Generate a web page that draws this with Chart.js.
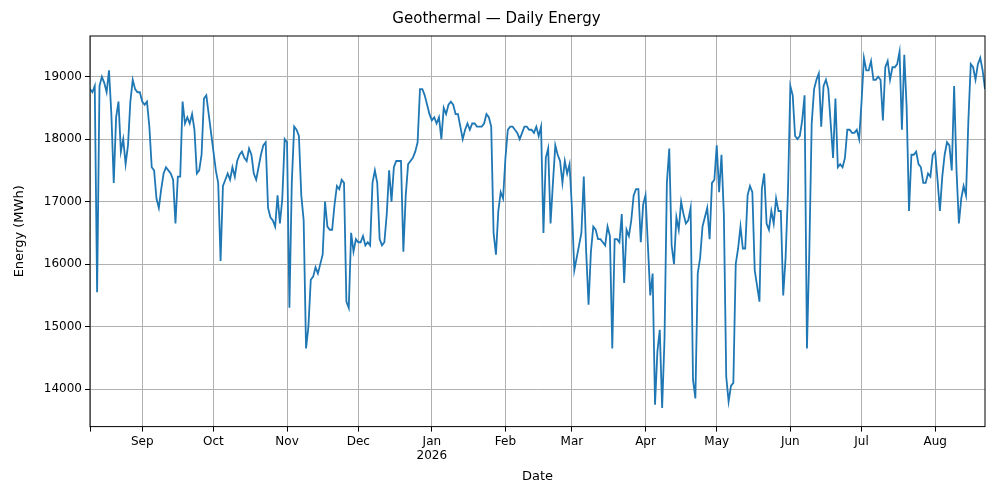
<!DOCTYPE html>
<html>
<head>
<meta charset="utf-8">
<script src="https://cdn.jsdelivr.net/npm/chart.js@4.4.1/dist/chart.umd.min.js"></script>
<style>
  html, body { margin: 0; padding: 0; background: #fff; }
  #wrap { width: 1000px; height: 500px; }
</style>
</head>
<body>
<div id="wrap"><canvas id="chart" width="1000" height="500"></canvas></div>
<script>
/* ================= DATA (daily MWh, 10 Aug 2025 .. 22 Aug 2026) ================= */
const aug25 = [18800,18750,18850,15550,18850,19000,18900,18750,19100,18400,17300,18350,18600,17800,18000,17600,17900,18600,18950,18800,18750,18750];
const sep25 = [18600,18550,18600,18200,17550,17500,17050,16900,17200,17450,17550,17500,17450,17350,16650,17400,17400,18600,18250,18350,18250,18400,18150,17450,17500,17750,18650,18700,18400,18100];
const oct25 = [17800,17500,17300,16050,17250,17350,17450,17350,17550,17400,17650,17750,17800,17700,17650,17850,17750,17450,17350,17550,17750,17900,17950,16900,16750,16700,16600,17100,16650,17050,18000];
const nov25 = [17950,15300,17300,18200,18150,18050,17100,16700,14650,15000,15750,15800,15950,15850,16000,16150,17000,16600,16550,16550,16950,17250,17200,17350,17300,15400,15300,16500,16200,16400];
const dec25 = [16350,16350,16450,16300,16350,16300,17300,17500,17300,16400,16300,16350,16800,17500,17000,17550,17650,17650,17650,16200,17100,17600,17650,17700,17800,17950,18800,18800,18700,18550,18400];
const jan26 = [18300,18350,18250,18350,18000,18500,18400,18550,18600,18550,18400,18400,18200,18000,18150,18250,18150,18250,18250,18200,18200,18200,18250,18400,18350,18200,16500,16150,16850,17150,17050];
const feb26 = [17700,18150,18200,18200,18150,18100,18000,18100,18200,18200,18150,18150,18100,18200,18050,18200,16500,17700,17850,16650,17300,17900,17750,17650,17300,17650,17450,17600];
const mar26 = [16900,15900,16100,16300,16500,17400,16200,15350,16200,16600,16550,16400,16400,16350,16300,16600,16450,14650,16400,16400,16350,16800,15700,16550,16450,16700,17100,17200,17200,16350,16950];
const apr26 = [17100,16300,15500,15850,13750,14600,14950,13700,14800,17300,17850,16300,16000,16750,16550,17000,16800,16650,16700,16900,14150,13850,15850,16100,16600,16750,16900,16400,17300,17350];
const may26 = [17900,17150,17750,16800,14200,13800,14050,14100,16000,16250,16600,16250,16250,17100,17250,17150,15900,15650,15400,17200,17450,16650,16550,16850,16650,17050,16850,16850,15500,16100,17150];
const jun26 = [18850,18700,18050,18000,18050,18300,18700,14650,16200,18250,18800,18950,19050,18200,18850,18950,18800,18250,17700,18650,17550,17600,17550,17700,18150,18150,18100,18100,18150,18000];
const jul26 = [18600,19300,19100,19100,19250,18950,18950,19000,18950,18300,19150,19250,18950,19150,19150,19200,19400,18150,19350,18500,16850,17750,17750,17800,17600,17550,17300,17300,17450,17400,17750];
const aug26 = [17800,17350,16850,17400,17750,17950,17900,17500,18850,17500,16650,17050,17250,17100,18300,19200,19150,18950,19200,19300,19100,18800];

const months = [aug25, sep25, oct25, nov25, dec25, jan26, feb26, mar26, apr26, may26, jun26, jul26, aug26];
const monthLabels = ["", "Sep", "Oct", "Nov", "Dec", ["Jan", "2026"], "Feb", "Mar", "Apr", "May", "Jun", "Jul", "Aug"];
const yTicks = [14000, 15000, 16000, 17000, 18000, 19000];

/* ================= BUILD SERIES ================= */
const energy = [].concat(...months);
const points = energy.map((v, i) => ({ x: i, y: v }));

const monthStarts = [];
let acc = 0;
months.forEach(m => { monthStarts.push(acc); acc += m.length; });
const tickLabelAt = {};
monthStarts.forEach((s, i) => { tickLabelAt[s] = monthLabels[i]; });

const FONT = "'DejaVu Sans', sans-serif";

/* frame round the plot area */
const frame = {
    id: "frame",
    afterDraw(chart) {
        const a = chart.chartArea, c = chart.ctx;
        c.save();
        c.strokeStyle = "#000";
        c.lineWidth = 1;
        c.strokeRect(a.left, a.top, a.right - a.left, a.bottom - a.top);
        c.restore();
    }
};

new Chart(document.getElementById("chart"), {
    type: "line",
    data: {
        datasets: [{
            data: points,
            borderColor: "#1f77b4",
            borderWidth: 1.8,
            pointRadius: 0,
            tension: 0,
            fill: false
        }]
    },
    options: {
        responsive: false,
        animation: false,
        layout: { padding: { left: 8, right: 15, top: 8, bottom: 12 } },
        plugins: {
            legend: { display: false },
            tooltip: { enabled: false },
            title: {
                display: true,
                text: "Geothermal — Daily Energy",
                color: "#000",
                font: { family: FONT, size: 15, weight: "normal" },
                padding: { top: 2, bottom: 8 }
            }
        },
        scales: {
            x: {
                type: "linear",
                min: 0,
                max: energy.length - 1,
                afterBuildTicks: axis => {
                    axis.ticks = monthStarts.map(v => ({ value: v }));
                },
                ticks: {
                    autoSkip: false,
                    maxRotation: 0,
                    color: "#000",
                    font: { family: FONT, size: 12 },
                    callback: v => tickLabelAt[v]
                },
                grid: { color: "#b0b0b0", tickColor: "#000", tickLength: 5 },
                border: { display: false },
                title: {
                    display: true,
                    text: "Date",
                    color: "#000",
                    font: { family: FONT, size: 13 },
                    padding: { top: 2 }
                }
            },
            y: {
                min: 13400,
                max: 19650,
                afterBuildTicks: axis => {
                    axis.ticks = yTicks.map(v => ({ value: v }));
                },
                afterFit: axis => { axis.width = 82; },
                ticks: {
                    color: "#000",
                    font: { family: FONT, size: 12 },
                    callback: v => String(v)
                },
                grid: { color: "#b0b0b0", tickColor: "#000", tickLength: 5 },
                border: { display: false },
                title: {
                    display: true,
                    text: "Energy (MWh)",
                    color: "#000",
                    font: { family: FONT, size: 13 }
                }
            }
        }
    },
    plugins: [frame]
});
</script>
</body>
</html>
